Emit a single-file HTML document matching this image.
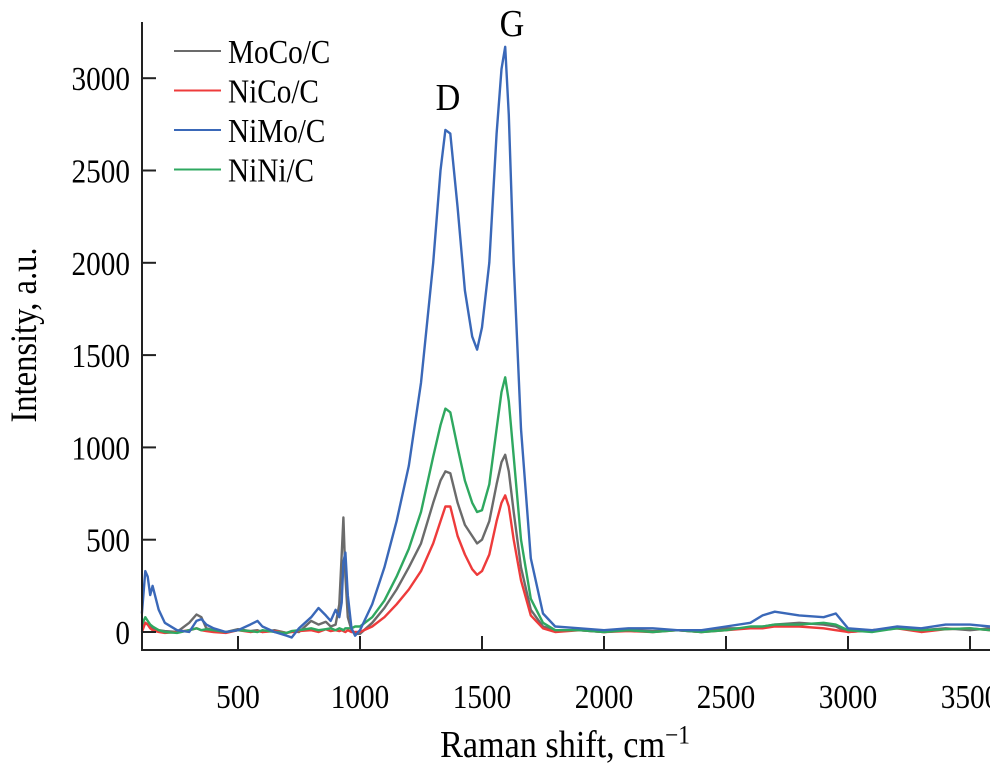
<!DOCTYPE html>
<html><head><meta charset="utf-8"><style>
body{margin:0;background:#fff}
svg{display:block;font-family:"Liberation Serif",serif}
</style></head><body>
<svg id="c" width="990" height="772">
<g id="plot"></g>
<g id="axes"></g>
<text transform="translate(448,110) scale(0.9,1)" font-size="38" text-anchor="middle">D</text>
<text transform="translate(512,36) scale(0.9,1)" font-size="38" text-anchor="middle">G</text>
<text transform="translate(36,335) rotate(-90) scale(0.88,1)" font-size="37" text-anchor="middle">Intensity, a.u.</text>
<text transform="translate(565,757) scale(0.9,1)" font-size="38" text-anchor="middle">Raman shift, cm<tspan baseline-shift="super" font-size="26">−1</tspan></text>
<g id="legend"></g>
</svg>
<script>
const xs=[106,120,130,140,150,175,200,250,300,330,350,370,400,450,500,550,580,600,650,700,720,750,800,830,860,880,900,915,925,932,940,950,965,980,1000,1050,1100,1150,1200,1250,1300,1330,1350,1370,1400,1430,1460,1480,1500,1530,1560,1580,1595,1610,1630,1660,1700,1750,1800,1900,2000,2100,2200,2300,2400,2500,2600,2650,2700,2800,2900,2950,3000,3100,3200,3300,3400,3500,3582];
const moco=[20,50,40,30,20,10,5,0,50,95,80,20,10,0,15,5,10,0,10,-5,5,0,60,40,55,30,40,150,420,620,300,80,10,-10,-10,50,130,230,350,480,700,820,870,860,700,580,520,480,500,600,800,920,960,870,650,350,120,30,10,10,0,10,5,10,0,20,20,30,40,50,40,30,0,10,20,10,20,10,20];
const nico=[0,50,40,20,10,0,-5,0,10,20,10,5,0,-5,10,0,5,0,5,-5,0,5,10,0,15,5,10,5,10,5,0,10,0,0,0,30,80,150,230,330,480,600,680,680,520,420,340,310,330,420,600,700,740,680,500,280,90,20,0,10,0,5,0,10,0,10,20,20,30,30,20,10,0,10,20,0,15,20,10];
const nimo=[100,330,300,200,250,120,50,10,0,60,70,40,20,0,10,40,60,30,0,-20,-30,20,80,130,90,60,120,80,160,380,430,200,20,-20,10,150,350,600,900,1350,2000,2500,2720,2700,2300,1850,1600,1530,1650,2000,2700,3050,3170,2800,2000,1100,400,100,30,20,10,20,20,10,10,30,50,90,110,90,80,100,20,10,30,20,40,40,30];
const nini=[40,80,60,40,30,10,0,-5,10,20,10,15,10,0,10,5,0,10,0,-5,5,10,20,10,15,20,10,20,15,10,20,20,20,30,30,80,170,300,450,650,950,1120,1210,1190,1000,820,700,650,660,800,1100,1300,1380,1250,950,500,180,50,10,10,0,10,0,10,0,10,30,30,40,40,50,40,10,0,20,10,15,20,10];
const yTicks=[0,500,1000,1500,2000,2500,3000];
const xTicks=[500,1000,1500,2000,2500,3000,3500];
const seriesNames=["MoCo/C","NiCo/C","NiMo/C","NiNi/C"];
const seriesColors=["#6b6b6b","#ee3b3b","#3a68b8","#2fa860"];
const seriesData=[moco,nico,nimo,nini];
const X=v=>116+v*0.2440;
const Y=v=>632-v*0.1846;
const NS="http://www.w3.org/2000/svg";
function mk(t,a,p){const e=document.createElementNS(NS,t);for(const k in a)e.setAttribute(k,a[k]);p.appendChild(e);return e;}
const plot=document.getElementById('plot'),axes=document.getElementById('axes'),leg=document.getElementById('legend');
[0,1,3,2].forEach(i=>{
 const pts=xs.map((x,j)=>X(x).toFixed(1)+','+Y(seriesData[i][j]).toFixed(1)).join(' ');
 const pl=mk('polyline',{points:pts,fill:'none',stroke:seriesColors[i],'stroke-width':2.4,'stroke-linejoin':'round'},plot);
 
 
});
const ax=mk('path',{d:'M142,22V650H990',fill:'none',stroke:'#222','stroke-width':2},axes);


yTicks.forEach(v=>{
 const t=mk('line',{x1:142,x2:156,y1:Y(v),y2:Y(v),stroke:'#222','stroke-width':2},axes);
 
 
 const l=mk('text',{transform:'translate(130,'+(Y(v)+12)+') scale(0.86,1)','font-size':34,'text-anchor':'end'},axes);l.textContent=v;
 
 
});
xTicks.forEach(v=>{
 const t=mk('line',{x1:X(v),x2:X(v),y1:650,y2:636,stroke:'#222','stroke-width':2},axes);
 
 
 const l=mk('text',{transform:'translate('+X(v)+',708) scale(0.86,1)','font-size':34,'text-anchor':'middle'},axes);l.textContent=v;
 
 
});
seriesNames.forEach((n,i)=>{
 const y=51+i*39.5;
 const ln=mk('line',{x1:174,x2:221,y1:y,y2:y,stroke:seriesColors[i],'stroke-width':2},leg);
 
 
 const t=mk('text',{transform:'translate(228,'+(y+12)+') scale(0.86,1)','font-size':34},leg);t.textContent=n;
 
 
});
</script>
</body></html>
